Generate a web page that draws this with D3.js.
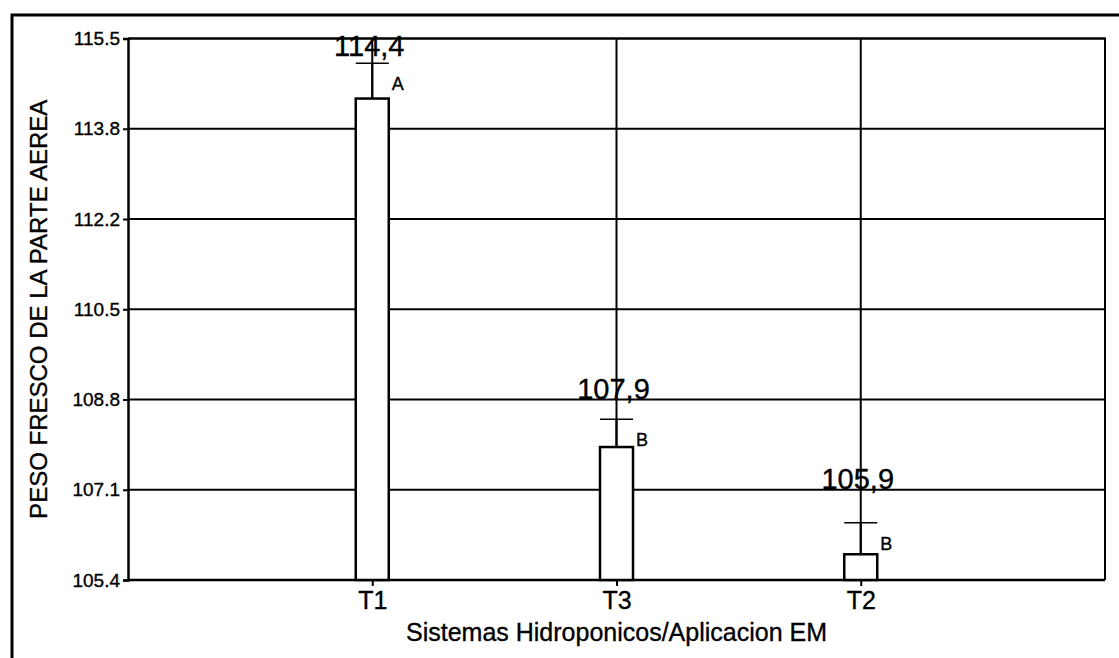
<!DOCTYPE html>
<html>
<head>
<meta charset="utf-8">
<script src="https://cdn.jsdelivr.net/npm/d3@7"></script>
<style>
  html, body { margin: 0; padding: 0; background: #fff; }
  svg { display: block; font-family: "Liberation Sans", Arial, sans-serif; }
  text { stroke: #000; stroke-width: 0.35px; }
</style>
</head>
<body>
<svg id="chart" width="1119" height="658"></svg>
<script>
// Treatments in plotting order, mean fresh weight, standard error and Tukey group
const categories = ["T1", "T3", "T2"];
const means = [114.4, 107.9, 105.9];
const meanLabels = ["114,4", "107,9", "105,9"];
const errors = [0.66, 0.52, 0.59];
const groups = ["A", "B", "B"];

// Y axis range and its tick labels
const yMin = 105.42;
const yMax = 115.52;
const yTickLabels = ["105.4", "107.1", "108.8", "110.5", "112.2", "113.8", "115.5"];

const xTitle = "Sistemas Hidroponicos/Aplicacion EM";
const yTitle = "PESO FRESCO DE LA PARTE AEREA";

const svg = d3.select("#chart");
const plot = { left: 128, top: 38.5, right: 1105, bottom: 580 };

// Outer frame (runs past the right and bottom edges)
svg.append("rect")
  .attr("x", 12).attr("y", 15)
  .attr("width", 1300).attr("height", 800)
  .attr("fill", "#fff")
  .attr("stroke", "#000").attr("stroke-width", 3);

const x = d3.scalePoint()
  .domain(categories)
  .range([plot.left, plot.right])
  .padding(1);

const y = d3.scaleLinear()
  .domain([yMin, yMax])
  .range([plot.bottom, plot.top]);

const yTickValues = yTickLabels.map((_, i) => yMin + i * (yMax - yMin) / (yTickLabels.length - 1));

// Horizontal grid lines
svg.append("g")
  .selectAll("line")
  .data(yTickValues)
  .join("line")
  .attr("x1", plot.left).attr("x2", plot.right)
  .attr("y1", d => y(d)).attr("y2", d => y(d))
  .attr("stroke", "#000").attr("stroke-width", 2);

// Vertical grid lines through each treatment
svg.append("g")
  .selectAll("line")
  .data(categories)
  .join("line")
  .attr("x1", d => x(d)).attr("x2", d => x(d))
  .attr("y1", plot.top).attr("y2", plot.bottom)
  .attr("stroke", "#000").attr("stroke-width", 2);

// Plot border (top and right)
svg.append("path")
  .attr("d", `M${plot.left},${plot.top}H${plot.right}V${plot.bottom}`)
  .attr("fill", "none")
  .attr("stroke", "#000").attr("stroke-width", 2);

// Axes
const yAxis = d3.axisLeft(y)
  .tickValues(yTickValues)
  .tickFormat((d, i) => yTickLabels[i])
  .tickSize(5).tickPadding(3);

const gy = svg.append("g")
  .attr("transform", `translate(${plot.left},0)`)
  .call(yAxis);
gy.select(".domain").attr("stroke-width", 2.5);
gy.selectAll(".tick line").attr("stroke-width", 2);
gy.selectAll(".tick text")
  .attr("font-size", 19).attr("fill", "#000")
  .attr("font-family", "Liberation Sans, Arial, sans-serif");

const xAxis = d3.axisBottom(x).tickSize(6).tickPadding(5);
const gx = svg.append("g")
  .attr("transform", `translate(0,${plot.bottom})`)
  .call(xAxis);
gx.select(".domain").attr("stroke-width", 2.5).attr("d", `M${plot.left},0H${plot.right}`);
gx.selectAll(".tick line").attr("stroke-width", 2);
gx.selectAll(".tick text")
  .attr("font-size", 25).attr("fill", "#000")
  .attr("font-family", "Liberation Sans, Arial, sans-serif");

// Bars
const barW = 33;
const data = categories.map((c, i) => ({
  cat: c, mean: means[i], label: meanLabels[i], err: errors[i], group: groups[i]
}));

svg.append("g")
  .selectAll("rect")
  .data(data)
  .join("rect")
  .attr("x", d => x(d.cat) - barW / 2)
  .attr("y", d => y(d.mean))
  .attr("width", barW)
  .attr("height", d => y(yMin) - y(d.mean))
  .attr("fill", "#fff")
  .attr("stroke", "#000").attr("stroke-width", 2.5);

// Error bars (upper whisker and cap)
const eb = svg.append("g");
eb.selectAll("line.whisker")
  .data(data)
  .join("line")
  .attr("class", "whisker")
  .attr("x1", d => x(d.cat)).attr("x2", d => x(d.cat))
  .attr("y1", d => y(d.mean)).attr("y2", d => y(d.mean + d.err))
  .attr("stroke", "#000").attr("stroke-width", 2);
eb.selectAll("line.cap")
  .data(data)
  .join("line")
  .attr("class", "cap")
  .attr("x1", d => x(d.cat) - barW / 2).attr("x2", d => x(d.cat) + barW / 2)
  .attr("y1", d => y(d.mean + d.err)).attr("y2", d => y(d.mean + d.err))
  .attr("stroke", "#000").attr("stroke-width", 1.5);

// Mean labels sit on the first grid line above each whisker
function labelBaseline(d) {
  const top = y(d.mean + d.err);
  const above = yTickValues.filter(t => y(t) < top - 4);
  const line = above.length ? y(d3.min(above)) : plot.top;
  return Math.max(line, plot.top + 18);
}
svg.append("g")
  .selectAll("text")
  .data(data)
  .join("text")
  .attr("x", d => x(d.cat) - 3)
  .attr("y", d => labelBaseline(d) - 1)
  .attr("text-anchor", "middle")
  .attr("font-size", 29)
  .attr("fill", "#000")
  .text(d => d.label);

// Tukey group letters
svg.append("g")
  .selectAll("text")
  .data(data)
  .join("text")
  .attr("x", d => x(d.cat) + barW / 2 + 3)
  .attr("y", d => y(d.mean + d.err) + 27)
  .attr("font-size", 18)
  .attr("fill", "#000")
  .text(d => d.group);

// Axis titles
svg.append("text")
  .attr("x", (plot.left + plot.right) / 2)
  .attr("y", 641)
  .attr("text-anchor", "middle")
  .attr("font-size", 25)
  .attr("fill", "#000")
  .text(xTitle);

svg.append("text")
  .attr("transform", `translate(47,${(plot.top + plot.bottom) / 2}) rotate(-90)`)
  .attr("text-anchor", "middle")
  .attr("font-size", 24)
  .attr("fill", "#000")
  .text(yTitle);
</script>
</body>
</html>
